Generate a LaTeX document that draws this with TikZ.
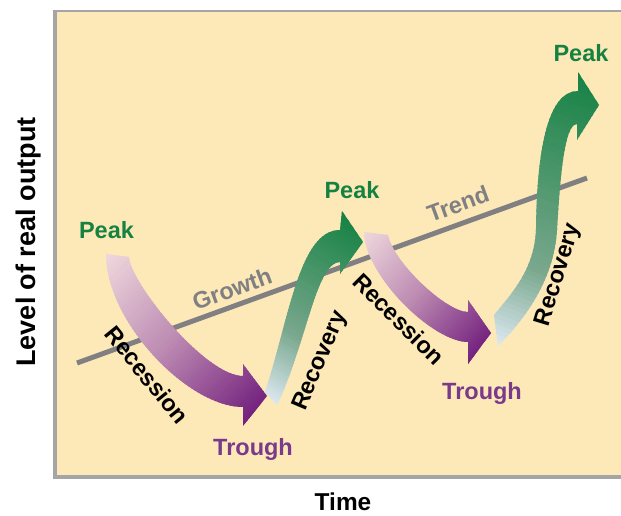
\documentclass[tikz,border=0pt]{standalone}
\usepackage{fontspec}
\setmainfont{Liberation Sans}
\definecolor{panelfill}{RGB}{253,232,184}
\definecolor{bordergray}{RGB}{165,165,165}
\definecolor{trendgray}{RGB}{128,128,131}
\definecolor{peakgreen}{RGB}{22,130,66}
\definecolor{troughpurple}{RGB}{122,58,140}
\definecolor{recA}{RGB}{240,218,222}
\definecolor{recB}{RGB}{188,138,178}
\definecolor{recC}{RGB}{116,34,126}
\definecolor{covA}{RGB}{224,234,244}
\definecolor{covB}{RGB}{122,168,142}
\definecolor{covC}{RGB}{22,130,68}
% #1 origin, #2 angle, #3 length, #4-#6 colours, #7 index (0..60) of middle colour
\newcommand\gradstripes[7]{%
  \begin{scope}[shift={(#1)}, rotate=#2]
  \foreach \gi in {0,...,60}{%
    \ifnum\gi<#7\relax
      \edef\gradp{\the\numexpr \gi*100/#7\relax}%
      \colorlet{stripecol}{#5!\gradp!#4}%
    \else
      \edef\gradp{\the\numexpr (\gi-#7)*100/(60-#7)\relax}%
      \colorlet{stripecol}{#6!\gradp!#5}%
    \fi
    \fill[stripecol] ({(\gi-0.5)/60*#3-1}, -150) rectangle ({(\gi+0.5)/60*#3+1}, 150);
  }
  \end{scope}}
\begin{document}
\begin{tikzpicture}[x=1pt,y=-1pt,
  lbl/.style={font=\fontsize{23.5}{28}\selectfont\bfseries, inner sep=0pt, text height=16.8pt, text depth=0pt},
  peaklbl/.style={lbl, text=peakgreen},
  troughlbl/.style={lbl, text=troughpurple},
  phaselbl/.style={lbl, text=black},
  trendlbl/.style={lbl, text=trendgray},
  axislbl/.style={lbl, text=black},
  trendline/.style={draw=trendgray, line width=5pt},
]
\useasboundingbox (0,0) rectangle (621,515);
% panel
\fill[panelfill] (55,11) rectangle (621,477);
\draw[bordergray, line width=2pt] (55,11) -- (621,11);
\draw[bordergray, line width=4.5pt] (55,10) -- (55,479);
\draw[bordergray, line width=4.5pt] (53,477) -- (621,477);
% trend line
\coordinate (t0) at (77,363);
\coordinate (t1) at (587,178);
\draw[trendline] (t0) -- (t1);
% gradient origins
\coordinate (g1) at (106,254);
\coordinate (g2) at (276,405);
\coordinate (g3) at (364,232);
\coordinate (g4) at (498,346);
% recession 1
\begin{scope}
\clip (129,257) .. controls (130,282) and (205,376) .. (243,376)
  -- (243,364) -- (267,396) -- (243,426) -- (243,407)
  .. controls (188,407) and (106,322) .. (106,254) -- cycle;
\gradstripes{g1}{-43.5}{218}{recA}{recB}{recC}{30}
\end{scope}
% recovery 1
\begin{scope}
\clip (265,392) .. controls (289,320) and (299,230) .. (340,230)
  -- (342,211) -- (363,242) -- (340,274) -- (340,262)
  .. controls (316,262) and (306,345) .. (277,405) -- cycle;
\gradstripes{g2}{60}{201}{covA}{covB}{covC}{21}
\end{scope}
% recession 2
\begin{scope}
\clip (388,235) .. controls (393,262) and (446,312) .. (468,312)
  -- (468,300) -- (491,333) -- (468,364) -- (468,342)
  .. controls (433,342) and (365,276) .. (364,232) -- cycle;
\gradstripes{g3}{-41}{166}{recA}{recB}{recC}{30}
\end{scope}
% recovery 2
\begin{scope}
\clip (494,315) .. controls (513,292) and (535,268) .. (536,228)
  .. controls (537,145) and (549,91) .. (578,91)
  -- (578,72) -- (599,105) -- (577,140) -- (577,124)
  .. controls (564,124) and (560,180) .. (557,230)
  .. controls (554,282) and (522,322) .. (498,346) -- cycle;
\gradstripes{g4}{69}{285}{covA}{covB}{covC}{18}
\end{scope}
% labels
\node[trendlbl, rotate=20] (growth) at (232,289) {Growth};
\node[trendlbl, rotate=20] (trend) at (458,204) {Trend};
\node[peaklbl] (peak1) at (106.5,230) {Peak};
\node[peaklbl] (peak2) at (352,190) {Peak};
\node[peaklbl] (peak3) at (581,53) {Peak};
\node[troughlbl] (trough1) at (253,447) {Trough};
\node[troughlbl] (trough2) at (482,391) {Trough};
\node[phaselbl, rotate=-51] (rec1) at (147,375) {Recession};
\node[phaselbl, rotate=-45] (rec2) at (399,319) {Recession};
\node[phaselbl, rotate=67] (cov1) at (318,360) {Recovery};
\node[phaselbl, rotate=73] (cov2) at (556,274) {Recovery};
\node[axislbl, font=\fontsize{24.4}{28}\selectfont\bfseries] (xlab) at (343,502) {Time};
\node[axislbl, font=\fontsize{27}{30}\selectfont\bfseries, rotate=90] (ylab) at (27,242) {Level of real output};
\end{tikzpicture}
\end{document}
